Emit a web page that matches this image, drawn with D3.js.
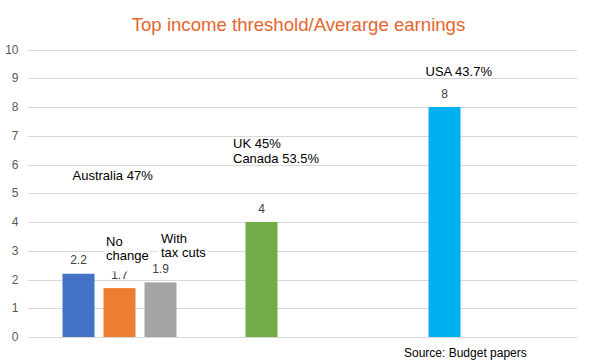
<!DOCTYPE html>
<html>
<head>
<meta charset="utf-8">
<script src="https://cdn.jsdelivr.net/npm/d3@7"></script>
<style>
  html, body { margin: 0; padding: 0; background: #fff; }
  svg { display: block; font-family: "Liberation Sans", Arial, sans-serif; }
</style>
</head>
<body>
<svg id="chart" width="595" height="364"></svg>
<script>
// ---- data ----
const categories = ["Australia", "UK/Canada", "USA"];
const slots = [0, 1, 2];
const barCategory = ["Australia", "Australia", "Australia", "UK/Canada", "USA"];
const barSlot = [0, 1, 2, 0, 0];
const barValues = [2.2, 1.7, 1.9, 4, 8];
const barColors = ["#4472C4", "#ED7D31", "#A5A5A5", "#70AD47", "#00B0F0"];
const yTicks = [0, 1, 2, 3, 4, 5, 6, 7, 8, 9, 10];
const titleText = "Top income threshold/Averarge earnings";
const sourceText = "Source: Budget papers";

// ---- layout ----
const svg = d3.select("#chart");
const plot = { left: 28, right: 577, top: 49.5, bottom: 337 };

const x0 = d3.scaleBand().domain(categories).range([plot.left, plot.right]).paddingInner(0).paddingOuter(0);
const x1 = d3.scaleBand().domain(slots).range([30, 153]).paddingInner(0.22).paddingOuter(0.11);
const y = d3.scaleLinear().domain([0, 10]).range([plot.bottom, plot.top]);

// title
svg.append("text")
  .attr("x", 298.5).attr("y", 31)
  .attr("text-anchor", "middle")
  .attr("font-size", "18.6px")
  .attr("fill", "#E5652E")
  .text(titleText);

// gridlines
svg.append("g").selectAll("line").data(yTicks).join("line")
  .attr("x1", plot.left).attr("x2", plot.right)
  .attr("y1", d => Math.round(y(d)) + 0.5).attr("y2", d => Math.round(y(d)) + 0.5)
  .attr("stroke", "#D9D9D9").attr("stroke-width", 1);

// y tick labels
svg.append("g").selectAll("text").data(yTicks).join("text")
  .attr("x", 18.5).attr("y", d => y(d) + 4)
  .attr("text-anchor", "end")
  .attr("font-size", "12px")
  .attr("fill", "#595959")
  .text(d => d);

// bars
const bars = barValues.map((v, i) => ({ v, cat: barCategory[i], slot: barSlot[i], color: barColors[i] }));
svg.append("g").selectAll("rect").data(bars).join("rect")
  .attr("x", d => x0(d.cat) + x1(d.slot))
  .attr("width", x1.bandwidth())
  .attr("y", d => y(d.v))
  .attr("height", d => y(0) - y(d.v))
  .attr("fill", d => d.color);

// data labels
svg.append("g").selectAll("text").data(bars).join("text")
  .attr("x", d => x0(d.cat) + x1(d.slot) + x1.bandwidth() / 2)
  .attr("y", d => y(d.v) - 9.5)
  .attr("text-anchor", "middle")
  .attr("font-size", "12px")
  .attr("fill", "#404040")
  .text(d => d.v);

// annotation text boxes
const annotations = [
  { x: 72.5, y: 180, lh: 14, lines: ["Australia 47%"], box: null },
  { x: 106, y: 246, lh: 13.6, lines: ["No", "change"], box: [104, 231, 46, 40.5] },
  { x: 161, y: 243.3, lh: 13.6, lines: ["With", "tax cuts"], box: [158, 228, 50, 35] },
  { x: 233, y: 147.7, lh: 15, lines: ["UK 45%", "Canada 53.5%"], box: null },
  { x: 425.5, y: 76, lh: 14, lines: ["USA 43.7%"], box: null }
];
annotations.forEach(a => {
  const g = svg.append("g");
  if (a.box) {
    g.append("rect").attr("x", a.box[0]).attr("y", a.box[1])
      .attr("width", a.box[2]).attr("height", a.box[3]).attr("fill", "#fff");
  }
  const t = g.append("text").attr("font-size", "13px").attr("fill", "#000");
  a.lines.forEach((l, i) => {
    t.append("tspan").attr("x", a.x).attr("y", a.y + i * a.lh).text(l);
  });
});

// source
svg.append("text")
  .attr("x", 404).attr("y", 357)
  .attr("font-size", "12px")
  .attr("fill", "#000")
  .text(sourceText);
</script>
</body>
</html>
